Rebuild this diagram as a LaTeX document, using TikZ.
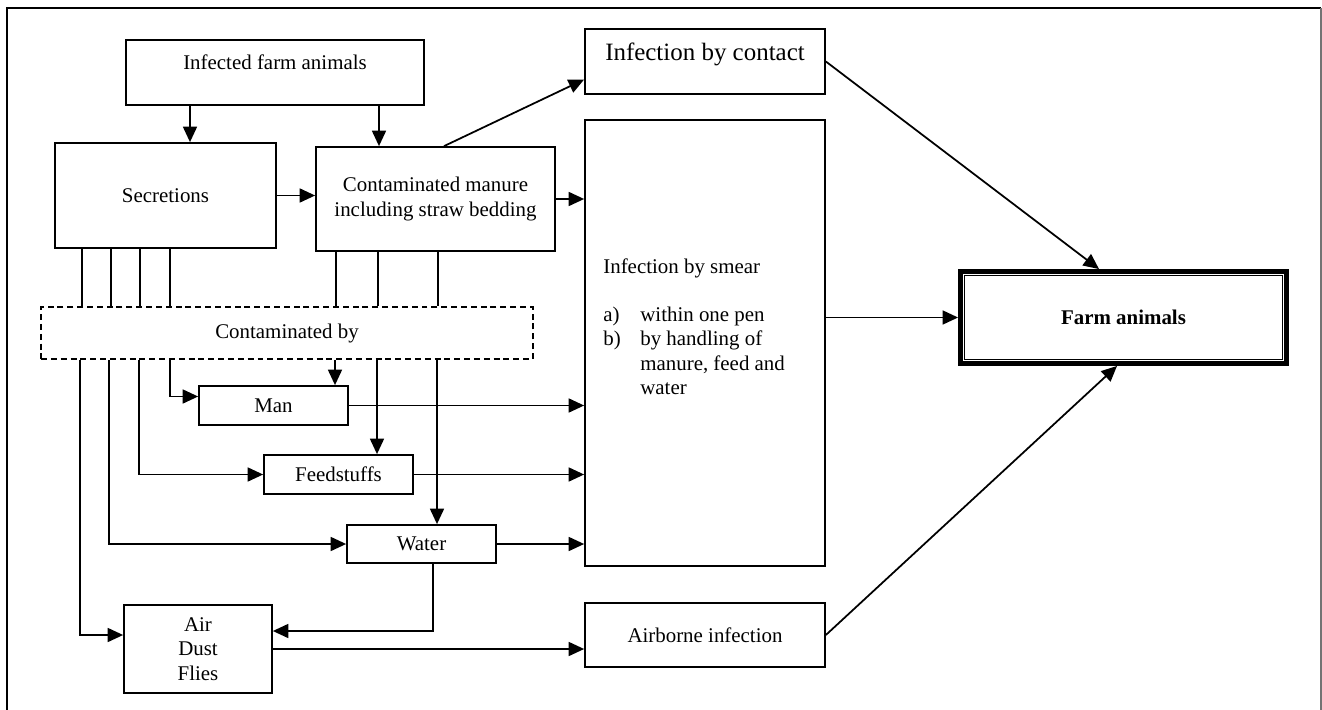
\documentclass[tikz,border=0pt]{standalone}
\usepackage{fontspec}
\setmainfont{Liberation Serif}
\usetikzlibrary{arrows.meta,calc}

\begin{document}
\begin{tikzpicture}[x=0.02cm, y=-0.02cm,
		box/.style={draw, line width=1pt, inner sep=0pt, align=center, font=\fontsize{11.9}{13.8}\selectfont},
		dashbox/.style={box, dash pattern=on 3.4pt off 2.2pt},
		arr/.style={line width=1pt, -{Triangle[length=0.31cm, width=0.28cm]}},
		wire/.style={line width=1pt}]
			%%%%% START %%%%%
			
			\useasboundingbox (0,0) rectangle (1322,710);
			\draw[line width=1.1pt] (7,710) -- (7,8) -- (1321,8);
			\draw[line width=0.9pt, color=black!55] (1321,8) -- (1321,710);
			
			\node[box, minimum width=5.96cm, minimum height=1.30cm, text depth=0.42cm] (inf) at (275,72.5) {Infected farm animals};
			\node[box, minimum width=4.42cm, minimum height=2.10cm] (sec) at (165.5,195.5) {Secretions};
			\node[box, minimum width=4.78cm, minimum height=2.08cm] (manure) at (435.5,199) {Contaminated manure\\including straw bedding};
			
			\node[box, minimum width=4.80cm, minimum height=1.30cm, text depth=0.39cm, font=\fontsize{14.2}{16.8}\selectfont] (contact) at (705,61.5) {Infection by contact};
			\node[box, minimum width=4.80cm, minimum height=8.92cm] (smear) at (705,343) {};
			\node[anchor=north west, inner sep=0pt, align=left, font=\fontsize{11.9}{13.8}\selectfont] (smeartxt) at (603,258) {Infection by smear\\[13.8pt]
				\makebox[0.74cm][l]{a)}within one pen\\
				\makebox[0.74cm][l]{b)}by handling of\\
				\hspace*{0.74cm}manure, feed and\\
				\hspace*{0.74cm}water};
			\node[box, minimum width=4.80cm, minimum height=1.28cm] (airborne) at (705,635) {Airborne infection};
			
			\node[box, line width=2.8pt, minimum width=6.52cm, minimum height=1.84cm, font=\fontsize{11.9}{13.8}\selectfont\bfseries] (farm) at (1123.5,317.5) {Farm animals};
			\draw[line width=0.8pt] ($(farm.north west)+(6.5,6.5)$) rectangle ($(farm.south east)+(-6.5,-6.5)$);
			
			\node[dashbox, minimum width=9.84cm, minimum height=1.04cm] (cont) at (287,333) {Contaminated by};
			\node[box, minimum width=2.98cm, minimum height=0.78cm] (man) at (273.5,405.5) {Man};
			\node[box, minimum width=2.98cm, minimum height=0.78cm] (feed) at (338.5,474.5) {Feedstuffs};
			\node[box, minimum width=2.98cm, minimum height=0.76cm] (water) at (421.5,544) {Water};
			\node[box, minimum width=2.96cm, minimum height=1.76cm] (air) at (198,649) {Air\\Dust\\Flies};
			
			% top part
			\draw[arr] (190,0 |- inf.south) -- (190,0 |- sec.north);
			\draw[arr] (379,0 |- inf.south) -- (379,0 |- manure.north);
			\draw[arr] (sec.east) -- (sec.east -| manure.west);
			\draw[arr] (444,0 |- manure.north) -- ($(contact.west)+(0,18)$);
			\draw[arr] (manure.east) -- (manure.east -| smear.west);
			
			% into the dashed box
			\draw[wire] (82,0 |- sec.south) -- (82,0 |- cont.north);
			\draw[wire] (111,0 |- sec.south) -- (111,0 |- cont.north);
			\draw[wire] (140,0 |- sec.south) -- (140,0 |- cont.north);
			\draw[wire] (170,0 |- sec.south) -- (170,0 |- cont.north);
			\draw[wire] (336,0 |- manure.south) -- (336,0 |- cont.north);
			\draw[wire] (378,0 |- manure.south) -- (378,0 |- cont.north);
			\draw[wire] (438,0 |- manure.south) -- (438,0 |- cont.north);
			
			% out of the dashed box
			\draw[arr] (80,0 |- cont.south) |- ($(air.west)+(0,-14)$);
			\draw[arr] (109,0 |- cont.south) |- (water.west);
			\draw[arr] (139,0 |- cont.south) |- (feed.west);
			\draw[arr] (170,0 |- cont.south) |- ($(man.west)+(0,-9)$);
			\draw[arr] (335,0 |- cont.south) -- (335,0 |- man.north);
			\draw[arr] (377,0 |- cont.south) -- (377,0 |- feed.north);
			\draw[arr] (437,0 |- cont.south) -- (437,0 |- water.north);
			
			% to smear and air
			\draw[arr] (man.east) -- (man.east -| smear.west);
			\draw[arr] (feed.east) -- (feed.east -| smear.west);
			\draw[arr] (water.east) -- (water.east -| smear.west);
			\draw[arr] (433,0 |- water.south) |- ($(air.east)+(0,-18)$);
			\draw[arr] (air.east) -- (air.east -| airborne.west);
			
			% to farm animals
			\draw[arr] (contact.east) -- (1099,0 |- farm.north);
			\draw[arr] (farm.west -| smear.east) -- (farm.west);
			\draw[arr] (airborne.east) -- (1117,0 |- farm.south);
			
			%%%%% END %%%%%
		\end{tikzpicture}
\end{document}
